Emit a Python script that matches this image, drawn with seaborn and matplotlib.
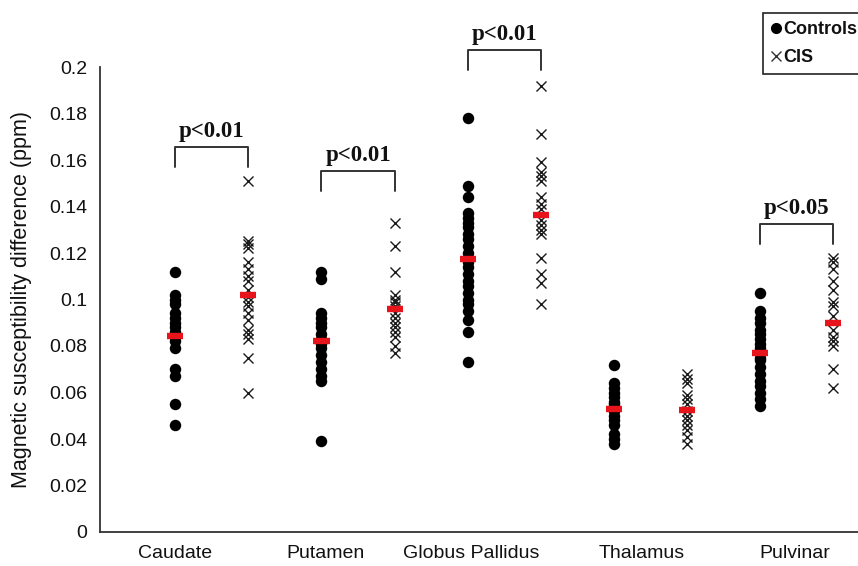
import numpy as np
import pandas as pd
import matplotlib
matplotlib.use("Agg")
import matplotlib.pyplot as plt
import seaborn as sns

# values (ppm)
regions = ["Caudate", "Putamen", "Globus Pallidus", "Thalamus", "Pulvinar"]

caudate_controls = [0.112, 0.102, 0.1, 0.098, 0.094, 0.092, 0.09, 0.088, 0.086,
                    0.084, 0.082, 0.079, 0.07, 0.067, 0.055, 0.046]
caudate_cis = [0.151, 0.125, 0.124, 0.122, 0.116, 0.113, 0.11, 0.108, 0.104, 0.101,
               0.099, 0.097, 0.094, 0.091, 0.087, 0.085, 0.083, 0.075, 0.06]
putamen_controls = [0.112, 0.109, 0.094, 0.092, 0.09, 0.088, 0.085, 0.083, 0.081,
                    0.079, 0.076, 0.073, 0.07, 0.067, 0.065, 0.039]
putamen_cis = [0.133, 0.123, 0.112, 0.102, 0.1, 0.099, 0.097, 0.094, 0.092, 0.09,
               0.088, 0.086, 0.084, 0.08, 0.077]
pallidus_controls = [0.178, 0.149, 0.144, 0.137, 0.135, 0.133, 0.131, 0.128, 0.126,
                     0.123, 0.12, 0.118, 0.116, 0.114, 0.111, 0.108, 0.106, 0.103,
                     0.1, 0.098, 0.095, 0.091, 0.086, 0.073]
pallidus_cis = [0.192, 0.171, 0.159, 0.155, 0.153, 0.151, 0.144, 0.141, 0.139, 0.134,
                0.132, 0.13, 0.128, 0.118, 0.111, 0.107, 0.098]
thalamus_controls = [0.072, 0.064, 0.062, 0.06, 0.058, 0.056, 0.055, 0.053, 0.052,
                     0.05, 0.048, 0.046, 0.042, 0.04, 0.038]
thalamus_cis = [0.068, 0.066, 0.064, 0.059, 0.057, 0.055, 0.052, 0.05, 0.048, 0.046,
                0.044, 0.041, 0.038]
pulvinar_controls = [0.103, 0.095, 0.092, 0.09, 0.087, 0.085, 0.083, 0.081, 0.079,
                     0.077, 0.075, 0.074, 0.071, 0.068, 0.065, 0.063, 0.06, 0.057, 0.054]
pulvinar_cis = [0.118, 0.116, 0.113, 0.108, 0.104, 0.099, 0.097, 0.093, 0.087, 0.084,
                0.082, 0.08, 0.07, 0.062]

# red bars
controls_mid = [0.0845, 0.082, 0.1175, 0.053, 0.077]
cis_mid = [0.102, 0.096, 0.1365, 0.0525, 0.090]

# significance brackets
p_labels = ["p<0.01", "p<0.01", "p<0.01", None, "p<0.05"]
p_heights = [0.1657, 0.1553, 0.2073, None, 0.1325]

y_ticks = [0, 0.02, 0.04, 0.06, 0.08, 0.1, 0.12, 0.14, 0.16, 0.18, 0.2]
y_ticklabels = ["0", "0.02", "0.04", "0.06", "0.08", "0.1", "0.12", "0.14",
                "0.16", "0.18", "0.2"]

controls = [caudate_controls, putamen_controls, pallidus_controls,
            thalamus_controls, pulvinar_controls]
cis = [caudate_cis, putamen_cis, pallidus_cis, thalamus_cis, pulvinar_cis]

rows = []
for i, region in enumerate(regions):
    for v in controls[i]:
        rows.append((region, "Controls", 2 * i + 1, v))
    for v in cis[i]:
        rows.append((region, "CIS", 2 * i + 2, v))
df = pd.DataFrame(rows, columns=["region", "group", "pos", "value"])

sns.set_style("white")
plt.rcParams["font.family"] = ["Liberation Sans", "DejaVu Sans"]
for key in ["text.color", "axes.labelcolor", "xtick.color", "ytick.color"]:
    plt.rcParams[key] = "#111111"

fig = plt.figure(figsize=(8.58, 5.66), dpi=100)
ax = fig.add_axes([100 / 858, 34 / 566, 758 / 858, 465 / 566])

sns.scatterplot(data=df[df.group == "Controls"], x="pos", y="value", marker="o",
                color="black", s=68, linewidth=0, ax=ax, legend=False, zorder=2)
sns.scatterplot(data=df[df.group == "CIS"], x="pos", y="value", marker="x",
                color="#1a1a1a", s=52, linewidth=1.0, ax=ax, legend=False, zorder=2)

pos_c = np.arange(len(regions)) * 2 + 1
ax.hlines(controls_mid, pos_c - 0.11, pos_c + 0.11, color="#e8141b", lw=4.6, zorder=3)
ax.hlines(cis_mid, pos_c + 1 - 0.11, pos_c + 1 + 0.11, color="#e8141b", lw=4.6, zorder=3)

for i, (lab, h) in enumerate(zip(p_labels, p_heights)):
    if lab is None:
        continue
    x0, x1 = pos_c[i], pos_c[i] + 1
    ax.plot([x0, x0, x1, x1], [h - 0.0085, h, h, h - 0.0085], color="#333333",
            lw=1.4, clip_on=False)
    ax.text((x0 + x1) / 2, h + 0.0022, lab, ha="center", va="bottom",
            fontsize=16.5, fontweight="bold", family="Liberation Serif",
            clip_on=False)

ax.set_xlim(-0.03, 10.34)
ax.set_ylim(0, 0.2)
ax.set_yticks(y_ticks, labels=y_ticklabels)
ax.set_xticks([1.0, 3.05, 5.05, 7.38, 9.47], labels=regions)
ax.tick_params(axis="x", length=0, pad=9, labelsize=14)
ax.tick_params(axis="y", length=5, width=1, direction="out", pad=4,
               labelsize=14, color="#333333")
ax.set_xlabel("")
ax.set_ylabel("Magnetic susceptibility difference (ppm)", fontsize=15.5)
ax.yaxis.set_label_coords(-0.09, 0.5)

for side in ["top", "right"]:
    ax.spines[side].set_visible(False)
for side in ["left", "bottom"]:
    ax.spines[side].set_color("#333333")
    ax.spines[side].set_linewidth(1.3)

handles = [
    plt.Line2D([], [], marker="o", color="black", ls="", ms=7),
    plt.Line2D([], [], marker="x", color="#333333", ls="", ms=7, mew=1),
]
leg = fig.legend(handles, ["Controls", "CIS"], loc="upper left",
                 bbox_to_anchor=(763 / 858, 1 - 13 / 566), borderaxespad=0,
                 handlelength=0.5, handletextpad=0.15, labelspacing=0.6,
                 borderpad=0.45, fancybox=False, framealpha=1,
                 prop={"size": 13, "weight": "bold"})
leg.get_frame().set_edgecolor("#222222")
leg.get_frame().set_linewidth(1.2)

fig.savefig("out.png", dpi=100)
